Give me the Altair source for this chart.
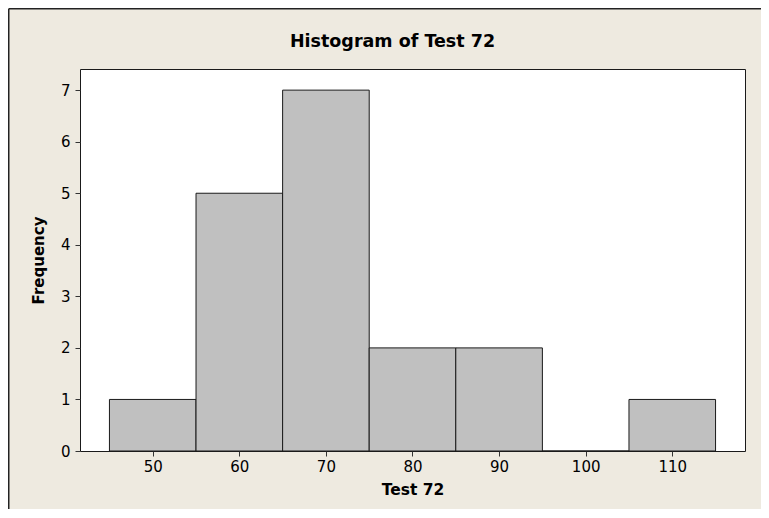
import altair as alt
import pandas as pd

# Histogram data
bin_start = [45, 55, 65, 75, 85, 95, 105]
bin_end = [55, 65, 75, 85, 95, 105, 115]
counts = [1, 5, 7, 2, 2, 0, 1]
x_ticks = [50, 60, 70, 80, 90, 100, 110]
y_ticks = [0, 1, 2, 3, 4, 5, 6, 7]
title_text = ["Histogram of Test 72"]

df = pd.DataFrame({"start": bin_start, "end": bin_end, "count": counts})

W, H = 665, 382
PL, PT, PR, PB = 72, 61, 16, 58
FONT = "DejaVu Sans"
BG = "#EEEAE0"

bars = alt.Chart(df).mark_bar(
    fill="#C0C0C0", stroke="#1a1a1a", strokeWidth=1, opacity=1
).encode(
    x=alt.X(
        "start:Q",
        scale=alt.Scale(domain=[41.6, 118.4], nice=False, zero=False),
        axis=alt.Axis(
            values=x_ticks, title="Test 72", grid=False, domain=False,
            tickSize=5, tickColor="#333333", labelPadding=3,
            labelFont=FONT, labelFontSize=15, labelColor="#000000",
            titleFont=FONT, titleFontSize=15.5, titleFontWeight="bold",
            titleColor="#000000", titlePadding=8,
        ),
    ),
    x2="end:Q",
    y=alt.Y(
        "count:Q",
        scale=alt.Scale(domain=[0, 7.41], nice=False),
        axis=alt.Axis(
            values=y_ticks, title="Frequency", grid=False, domain=False,
            tickSize=5, tickColor="#333333", labelPadding=5,
            labelFont=FONT, labelFontSize=15, labelColor="#000000",
            titleFont=FONT, titleFontSize=15, titleFontWeight="bold",
            titleColor="#000000", titlePadding=14,
        ),
    ),
    y2=alt.datum(0),
)

tdf = pd.DataFrame({"t": title_text})
title = alt.Chart(tdf).mark_text(
    font=FONT, fontSize=17.5, fontWeight="bold", color="#000000",
    align="center", baseline="alphabetic",
).encode(
    text="t:N", x=alt.value(312.5), y=alt.value(-22)
)

one = pd.DataFrame({"a": [0]})
frame_left = alt.Chart(one).mark_rule(color="#222222", strokeWidth=1.5).encode(
    x=alt.value(-PL + 0.75), y=alt.value(-PT + 0.75), y2=alt.value(H + PB)
)
frame_top = alt.Chart(one).mark_rule(color="#222222", strokeWidth=1.5).encode(
    y=alt.value(-PT + 0.75), x=alt.value(-PL + 0.75), x2=alt.value(W + PR)
)

chart = alt.layer(bars, title, frame_left, frame_top).properties(
    width=W,
    height=H,
    autosize=alt.AutoSizeParams(type="none"),
    padding={"left": PL, "top": PT, "right": PR, "bottom": PB},
    background=BG,
).configure_view(
    stroke="#1a1a1a", strokeWidth=1, fill="#FFFFFF"
)

chart.save("out.html", embed_options={"renderer": "svg", "actions": False})
